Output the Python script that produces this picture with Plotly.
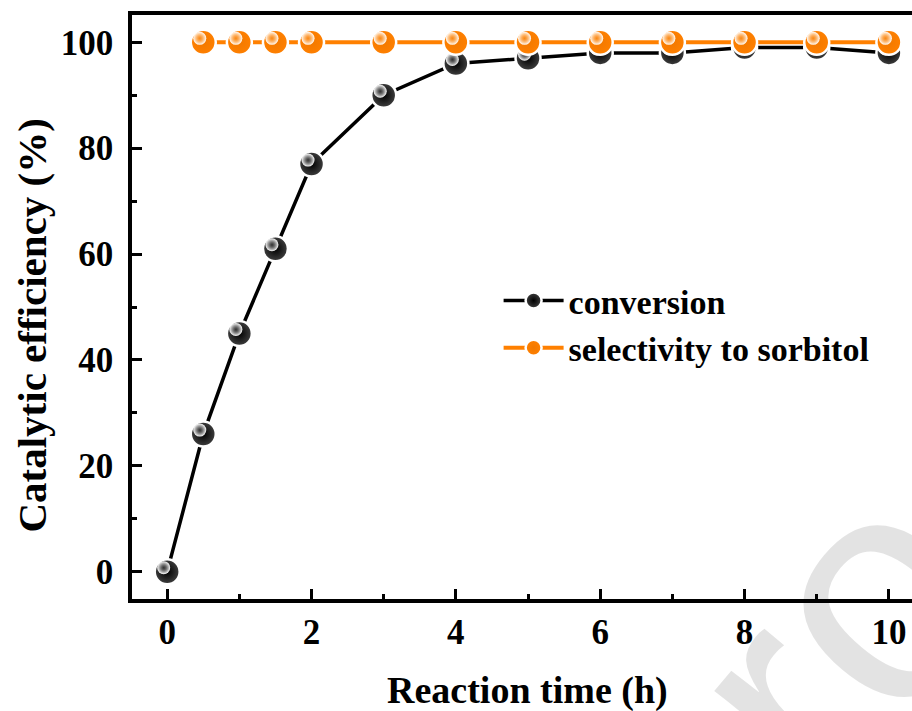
import plotly.graph_objects as go

# ---- data ----
time_conv = [0, 0.5, 1, 1.5, 2, 3, 4, 5, 6, 7, 8, 9, 10]
conversion = [0, 26, 45, 61, 77, 90, 96, 97, 98, 98, 99, 99, 98]
time_sel = [0.5, 1, 1.5, 2, 3, 4, 5, 6, 7, 8, 9, 10]
selectivity = [100, 100, 100, 100, 100, 100, 100, 100, 100, 100, 100, 100]
x_ticks = [0, 2, 4, 6, 8, 10]
y_ticks = [0, 20, 40, 60, 80, 100]
series_names = ["conversion", "selectivity to sorbitol"]
x_title = "Reaction time (h)"
y_title = "Catalytic efficiency (%)"
watermark = "proof"

W, H = 912, 711
ML, MR, MT, MB = 131.5, 0, 15, 112
XR = [-0.4875, 10.32]
YR = [-5.16, 105.16]
plot_w = W - ML - MR
plot_h = H - MT - MB
# pixel offsets for sphere highlight
dx = 3.5 * (XR[1] - XR[0]) / plot_w
dy = 4.0 * (YR[1] - YR[0]) / plot_h
XR2 = [XR[0] + dx, XR[1] + dx]
YR2 = [YR[0] - dy, YR[1] - dy]


def px_to_paper(px, py):
    return (px - ML) / plot_w, (H - MB - py) / plot_h


FONT = "Liberation Serif, Times New Roman, serif"
BLACK = "#000000"
ORANGE = "#ff8000"

fig = go.Figure()

# conversion: base spheres
fig.add_trace(go.Scatter(
    x=time_conv, y=conversion, name=series_names[0], mode="lines+markers",
    line=dict(color=BLACK, width=3.5),
    marker=dict(size=25, color="#404040", line=dict(color="white", width=2.5),
                gradient=dict(type="radial", color="#000000")),
    cliponaxis=False, xaxis="x", yaxis="y"))
# conversion: highlights
fig.add_trace(go.Scatter(
    x=time_conv, y=conversion, mode="markers", showlegend=False, hoverinfo="skip",
    marker=dict(size=13, color="#ffffff", line=dict(width=0),
                gradient=dict(type="radial", color="rgba(110,110,110,0.3)")),
    cliponaxis=False, xaxis="x2", yaxis="y2"))
# selectivity: base spheres
fig.add_trace(go.Scatter(
    x=time_sel, y=selectivity, name=series_names[1], mode="lines+markers",
    line=dict(color=ORANGE, width=4),
    marker=dict(size=25, color=ORANGE, line=dict(color="white", width=2.5),
                gradient=dict(type="radial", color="#f27900")),
    cliponaxis=False, xaxis="x3", yaxis="y3"))
# selectivity: highlights
fig.add_trace(go.Scatter(
    x=time_sel, y=selectivity, mode="markers", showlegend=False, hoverinfo="skip",
    marker=dict(size=13, color="#ffffff", line=dict(width=0),
                gradient=dict(type="radial", color="rgba(255,170,80,0.3)")),
    cliponaxis=False, xaxis="x4", yaxis="y4"))

tickfont = dict(family=FONT, size=35, color="black", weight="bold")
title_font = dict(family=FONT, size=38, color="black", weight="bold")
ytitle_font = dict(family=FONT, size=41, color="black", weight="bold")

xt_x, xt_y = px_to_paper(527, 690)
yt_x, yt_y = px_to_paper(31, 326)
wm_x, wm_y = px_to_paper(866, 602)

fig.update_layout(
    width=W, height=H,
    margin=dict(l=ML, r=MR, t=MT, b=MB, pad=0),
    paper_bgcolor="white", plot_bgcolor="white",
    showlegend=True,
    legend=dict(x=0.47, y=0.56, xanchor="left", yanchor="top",
                font=dict(family=FONT, size=34, color="black", weight="bold"),
                bgcolor="rgba(0,0,0,0)", tracegroupgap=0, itemwidth=60),
    xaxis=dict(range=XR, tickvals=x_ticks, ticks="inside", ticklen=10, tickwidth=3,
               tickcolor="black", showline=True, linecolor="black", linewidth=3.5,
               mirror=True, showgrid=False, zeroline=False, tickfont=tickfont,
               ticklabelstandoff=-1,
               minor=dict(dtick=1, tick0=0, ticks="inside", ticklen=5, tickwidth=3,
                          tickcolor="black", showgrid=False)),
    yaxis=dict(range=YR, tickvals=y_ticks, ticks="inside", ticklen=10, tickwidth=3,
               tickcolor="black", showline=True, linecolor="black", linewidth=3.5,
               mirror=False, showgrid=False, zeroline=False, tickfont=tickfont,
               ticklabelstandoff=8,
               minor=dict(dtick=10, tick0=0, ticks="inside", ticklen=5, tickwidth=3,
                          tickcolor="black", showgrid=False)),
    xaxis2=dict(range=XR2, overlaying="x", visible=False),
    yaxis2=dict(range=YR2, overlaying="y", visible=False),
    xaxis3=dict(range=XR, overlaying="x", visible=False),
    yaxis3=dict(range=YR, overlaying="y", visible=False),
    xaxis4=dict(range=XR2, overlaying="x", visible=False),
    yaxis4=dict(range=YR2, overlaying="y", visible=False),
    annotations=[
        dict(text=x_title, xref="paper", yref="paper", x=xt_x, y=xt_y,
             xanchor="center", yanchor="middle", showarrow=False, font=title_font),
        dict(text=y_title, xref="paper", yref="paper", x=yt_x, y=yt_y,
             textangle=-90, xanchor="center", yanchor="middle", showarrow=False,
             font=ytitle_font),
        dict(text=watermark, xref="paper", yref="paper", x=wm_x, y=wm_y,
             textangle=-50, xanchor="center", yanchor="middle", showarrow=False,
             font=dict(family="Liberation Sans, Arial, sans-serif", size=320,
                       color="rgba(0,0,0,0.11)")),
    ],
)

fig.write_html("out.html", config={"displayModeBar": False},
               post_script="document.body.style.margin='0';")
